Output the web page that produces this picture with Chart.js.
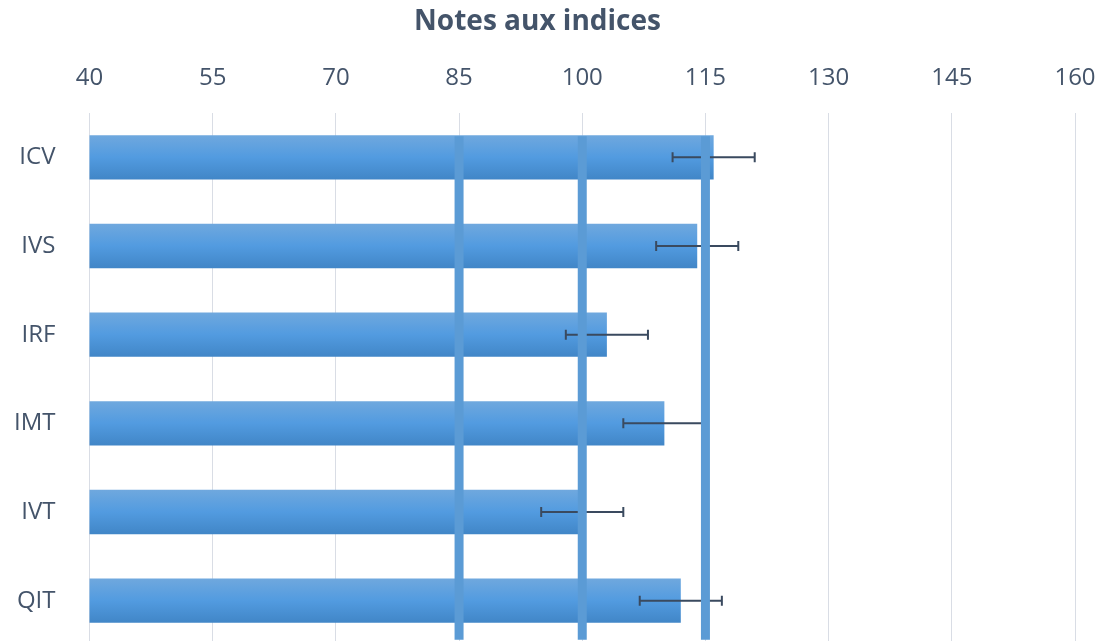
<!DOCTYPE html>
<html>
<head>
<meta charset="utf-8">
<script src="https://cdn.jsdelivr.net/npm/chart.js@4.4.1/dist/chart.umd.min.js"></script>
<style>
  html, body { margin: 0; padding: 0; background: #fff; overflow: hidden; }
  canvas { display: block; }
</style>
</head>
<body>
<canvas id="chart" width="1107" height="645"></canvas>
<script>
const categories = ['ICV', 'IVS', 'IRF', 'IMT', 'IVT', 'QIT'];
const scores = [116, 114, 103, 110, 100, 112];
const errors = [5, 5, 5, 5, 5, 5];
const referenceLines = [85, 100, 115];
const xTicks = [40, 55, 70, 85, 100, 115, 130, 145, 160];

const textColor = '#44546a';

function barGradient(ctx) {
    const chart = ctx.chart;
    const yScale = chart.scales.y;
    if (!yScale || ctx.dataIndex === undefined) return '#559ddf';
    const c = yScale.getPixelForValue(ctx.dataIndex);
    if (!Number.isFinite(c)) return '#559ddf';
    const g = chart.ctx.createLinearGradient(0, c - 22, 0, c + 22);
    g.addColorStop(0, '#6fa8de');
    g.addColorStop(0.5, '#529be0');
    g.addColorStop(1, '#4186c7');
    return g;
}

const overlayPlugin = {
    id: 'overlay',
    afterDatasetsDraw(chart) {
        const { ctx, scales: { x, y } } = chart;

        // error bars
        ctx.save();
        ctx.strokeStyle = '#3a4a5f';
        ctx.lineWidth = 2;
        scores.forEach((v, i) => {
            const cy = y.getPixelForValue(i);
            const x0 = x.getPixelForValue(v - errors[i]);
            const x1 = x.getPixelForValue(v + errors[i]);
            ctx.beginPath();
            ctx.moveTo(x0, cy);
            ctx.lineTo(x1, cy);
            ctx.moveTo(x0, cy - 5);
            ctx.lineTo(x0, cy + 5);
            ctx.moveTo(x1, cy - 5);
            ctx.lineTo(x1, cy + 5);
            ctx.stroke();
        });
        ctx.restore();

        // reference lines
        ctx.save();
        ctx.strokeStyle = '#5b9bd5';
        ctx.lineWidth = 9;
        const top = y.getPixelForValue(0) - 21;
        const bottom = y.getPixelForValue(categories.length - 1) + 39;
        referenceLines.forEach(v => {
            const px = x.getPixelForValue(v);
            ctx.beginPath();
            ctx.moveTo(px, top);
            ctx.lineTo(px, bottom);
            ctx.stroke();
        });
        ctx.restore();
    }
};

const chart = new Chart(document.getElementById('chart'), {
    type: 'bar',
    data: {
        labels: categories,
        datasets: [{
            data: scores,
            backgroundColor: barGradient,
            borderWidth: 0,
            barPercentage: 0.5,
            categoryPercentage: 1
        }]
    },
    options: {
        indexAxis: 'y',
        responsive: false,
        animation: false,
        layout: { padding: { left: 0, right: 32, top: 0, bottom: 0 } },
        plugins: {
            legend: { display: false },
            tooltip: { enabled: false },
            title: {
                display: true,
                text: 'Notes aux indices',
                color: textColor,
                padding: { top: 5, bottom: 0 },
                font: { family: 'Open Sans', size: 28, weight: 'bold', lineHeight: 1.2 }
            }
        },
        scales: {
            x: {
                position: 'top',
                min: 40,
                max: 160,
                afterBuildTicks: s => { s.ticks = xTicks.map(v => ({ value: v })); },
                afterFit: s => { s.height = 113 - 38.6; s.paddingLeft = 0; s.paddingRight = 0; },
                grid: { color: '#d9dde5', lineWidth: 1, drawTicks: false },
                border: { display: false },
                ticks: {
                    padding: 20,
                    color: textColor,
                    font: { family: 'Open Sans', size: 24 }
                }
            },
            y: {
                afterFit: s => { s.width = 89.5; s.paddingTop = 0; s.paddingBottom = 0; },
                grid: { display: false },
                border: { display: false },
                ticks: {
                    padding: 26,
                    color: textColor,
                    font: { family: 'Open Sans', size: 24 }
                }
            }
        }
    },
    plugins: [overlayPlugin]
});
// gradients depend on final scale positions
chart.update();
</script>
</body>
</html>
